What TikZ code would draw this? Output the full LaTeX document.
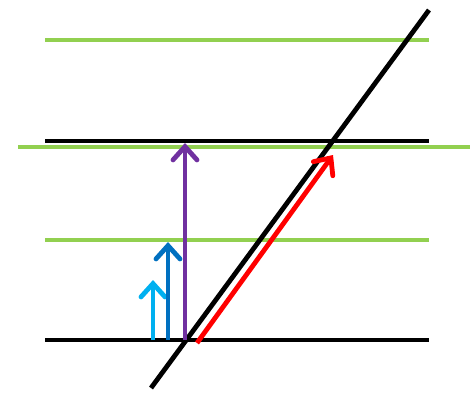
\documentclass[tikz,border=0pt]{standalone}
\usetikzlibrary{arrows.meta}

\definecolor{lgreen}{RGB}{146,208,80}
\definecolor{lblue}{RGB}{0,176,240}
\definecolor{dblue}{RGB}{0,112,192}
\definecolor{vpurple}{RGB}{112,48,160}
\definecolor{vred}{RGB}{255,0,0}

\tikzset{every picture/.style={line width=0.75pt}}
\tikzset{
  level/.style={line width=3.6pt},
  jump/.style={line width=3.6pt,-{Straight Barb[length=10pt,width=18pt,line cap=round]}},
}

\begin{document}
\begin{tikzpicture}[x=0.75pt,y=0.75pt,yscale=-1,xscale=1]
\useasboundingbox (0,0) rectangle (474,397);

% end points of the levels
\coordinate (gA) at (45,40);   \coordinate (gB) at (429,40);
\coordinate (kA) at (45,141);  \coordinate (kB) at (429,141);
\coordinate (hA) at (18,147);  \coordinate (hB) at (470,147);
\coordinate (mA) at (45,240);  \coordinate (mB) at (429,240);
\coordinate (bA) at (45,340);  \coordinate (bB) at (429,340);
% slanted line
\coordinate (sA) at (151,388); \coordinate (sB) at (429,10);
% arrow ends
\coordinate (c1) at (153,340); \coordinate (c1t) at (153,280);
\coordinate (c2) at (168,340); \coordinate (c2t) at (168,242);
\coordinate (c3) at (185,340); \coordinate (c3t) at (185,143);
\coordinate (r1) at (197,343); \coordinate (r1t) at (333,155);

%Straight Lines
\draw [level, lgreen] (gA) -- (gB) ;
\draw [level, black] (kA) -- (kB) ;
\draw [level, lgreen] (hA) -- (hB) ;
\draw [level, lgreen] (mA) -- (mB) ;
\draw [level, black] (bA) -- (bB) ;
\draw [level, black] (sA) -- (sB) ;

%Arrows
\draw [jump, lblue] (c1) -- (c1t) ;
\draw [jump, dblue] (c2) -- (c2t) ;
\draw [jump, vpurple] (c3) -- (c3t) ;
\draw [jump, vred] (r1) -- (r1t) ;

\end{tikzpicture}
\end{document}
